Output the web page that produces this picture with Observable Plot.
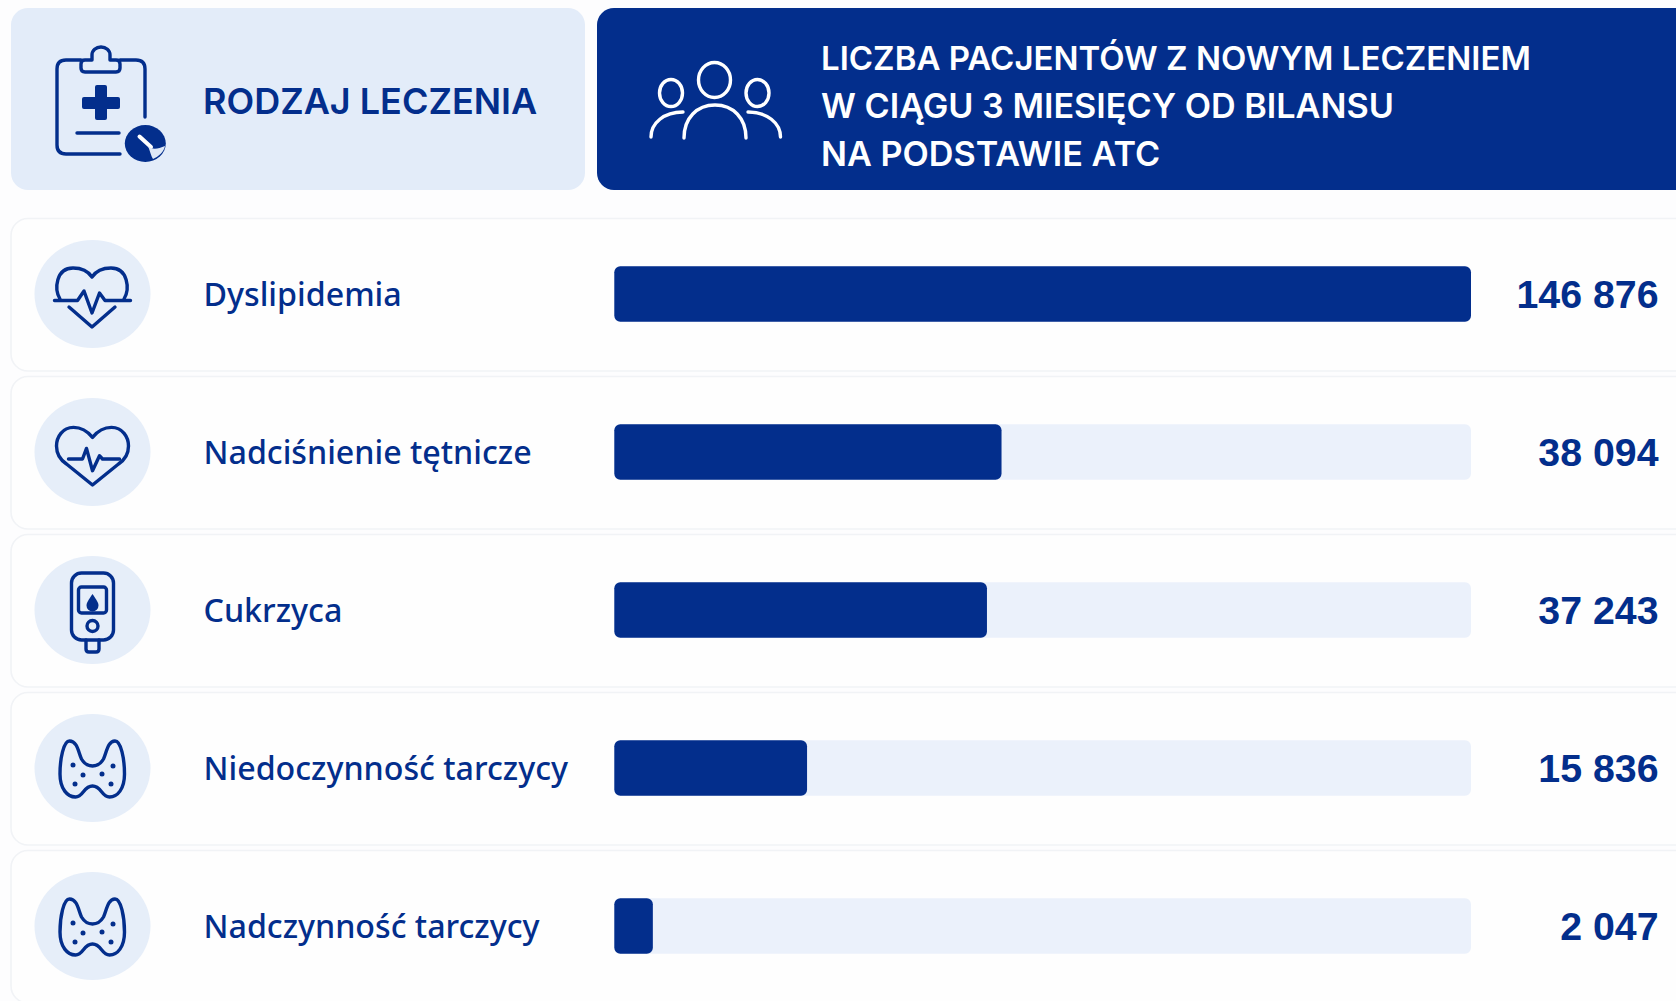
<!DOCTYPE html>
<html lang="pl">
<head>
<meta charset="utf-8">
<title>Rodzaj leczenia</title>
<script src="https://cdn.jsdelivr.net/npm/d3@7"></script>
<script src="https://cdn.jsdelivr.net/npm/@observablehq/plot@0.6"></script>
<style>
  html, body { margin: 0; padding: 0; background: #fdfdfe; overflow: hidden; }
  svg { display: block; }
</style>
</head>
<body>
<script>
// Row names and printed patient counts
const categories = ["Dyslipidemia", "Nadciśnienie tętnicze", "Cukrzyca", "Niedoczynność tarczycy", "Nadczynność tarczycy"];
const patients = [146876, 38094, 37243, 15836, 2047];
// Bar fill as % of its track: the reference's bars are not proportional to the printed counts
const barShare = [100, 45.2, 43.5, 22.5, 4.5];
const track = [100, 100, 100, 100, 100];
const leftHeader = "RODZAJ LECZENIA";
const rightHeader = ["LICZBA PACJENTÓW Z NOWYM LECZENIEM", "W CIĄGU 3 MIESIĘCY OD BILANSU", "NA PODSTAWIE ATC"];
const rightHeaderSize = [33, 34.2, 34.2];

const NAVY = "#032e8c", PALE = "#e3ecf9", CIRCLE = "#e6eef9", TRACK = "#ebf1fb";
const FONT = "'Noto Sans', sans-serif";
const HEADFONT = "Inter, sans-serif";
const NUMFONT = "'Liberation Sans', sans-serif";

const rows = categories.map((name, i) => ({name, patients: patients[i], share: barShare[i], track: track[i]}));
const spaced = n => String(n).replace(/\B(?=(\d{3})+$)/g, " ");

const thyroid = `<path d="M-23 -27C-29 -27 -32.5 -9 -32.5 6C-32.5 21 -25 29 -17 29C-9 29 -9 18 0 18C9 18 9 29 17 29C25 29 32 21 32 6C32 -9 28.5 -27 22.5 -27C15 -27 14 -15 11 -9C8 -4 4 -2 0 -2C-4 -2 -8 -4 -11 -9C-14 -15 -15 -27 -23 -27Z"/>
  <g fill="${NAVY}" stroke="none"><circle cx="-19.5" cy="-3" r="2.5"/><circle cx="-9.5" cy="7" r="2.5"/><circle cx="9.5" cy="6" r="2.5"/><circle cx="20.5" cy="-2" r="2.5"/><circle cx="-17.5" cy="16" r="2.5"/><circle cx="18.5" cy="16" r="2.5"/></g>`;
const icons = [
  `<path d="M-32.5 5C-38.5 -5 -36.5 -26 -19.5 -26C-10.5 -26 -4.5 -23 -.5 -17C3.5 -23 9.5 -26 18.5 -26C35.5 -26 37.5 -5 31.5 5"/>
   <path d="M-38 6.5H-15L-8.5 -3L-.5 19L7 -1L12.5 6.5H38"/><path d="M-23.5 13L-.5 33L22.5 13"/>`,
  `<path d="M0 -14.6C-6 -22 -13 -24.6 -19 -24.6C-30 -24.6 -36 -15 -36 -6C-36 2 -32 8 -26 12L0 33L26 12C32 8 36 2 36 -6C36 -15 30 -24.6 19 -24.6C13 -24.6 6 -22 0 -14.6Z"/>
   <path d="M-24 7H-10L-6 -3.6L0 18.7L7 3.7L10 7H27"/>`,
  `<rect x="-21" y="-37" width="42" height="67" rx="10"/><rect x="-14" y="-23" width="28" height="26" rx="3"/>
   <path d="M0 -16C4 -10 6 -7.5 6 -4.5A6 6 0 0 1 -6 -4.5C-6 -7.5 -4 -10 0 -16Z" fill="${NAVY}" stroke="none"/>
   <circle cx="0" cy="16" r="5.5"/><path d="M-6.5 30V39Q-6.5 42 -3.5 42H3.5Q6.5 42 6.5 39V30"/>`,
  thyroid,
  thyroid
];

function decoration(index, scales) {
  const g = d3.create("svg:g");
  const bw = typeof scales.y.bandwidth === "function" ? scales.y.bandwidth() : scales.y.bandwidth;
  let html = `
  <rect x="11" y="8" width="574" height="182" rx="17" fill="${PALE}"/>
  <rect x="597" y="8" width="1100" height="182" rx="17" fill="${NAVY}"/>
  <g fill="none" stroke="${NAVY}" stroke-width="3.4" stroke-linecap="round" stroke-linejoin="round">
    <path d="M81 60H66Q57 60 57 69V145Q57 154 66 154H120"/><path d="M120 60H136Q145 60 145 69V117"/>
    <path d="M81 64Q81 60 85 60H92V55A9 8 0 0 1 110 55V60H116Q120 60 120 64V68Q120 72 116 72H85Q81 72 81 68Z"/>
    <path d="M77 133H119"/>
  </g>
  <rect x="82" y="97" width="38" height="12" rx="2" fill="${NAVY}"/><rect x="95" y="85" width="12" height="35" rx="2" fill="${NAVY}"/>
  <ellipse cx="145.3" cy="143.5" rx="20.5" ry="18.5" fill="${NAVY}"/>
  <path d="M139.5 136.5L151 147" stroke="#fff" stroke-width="4" stroke-linecap="round"/>
  <path d="M148 146C152 150 158 149 165 146C164 152 158 157 153 159C151 156 150 151 148 146Z" fill="#dfe8f6"/>
  <g fill="none" stroke="#fff" stroke-width="3.4" stroke-linecap="round">
    <ellipse cx="714.5" cy="80" rx="16" ry="17.5"/><ellipse cx="671" cy="93" rx="11.5" ry="13.5"/><ellipse cx="757.5" cy="93" rx="11.5" ry="13.5"/>
    <path d="M684 138C684 118 697 105 715 105C733 105 746 118 746 138"/>
    <path d="M651 137C651 123 664 112 683 112"/><path d="M780.5 137C780.5 123 767 112 748 112"/>
  </g>
  <g text-anchor="start" font-family="${HEADFONT}" font-weight="600">
  <text x="203" y="101.5" dy=".36em" fill="${NAVY}" font-size="36">${leftHeader}</text>
  ${rightHeader.map((t, i) => `<text x="821" y="${58 + i * 47.8}" dy=".36em" fill="#fff" font-size="${rightHeaderSize[i]}">${t}</text>`).join("")}
  </g>`;
  rows.forEach((d, i) => {
    const c = scales.y(d.name) + bw / 2;
    html += `<rect x="11" y="${c - 75.5}" width="1700" height="152.5" rx="17" fill="#fefefe" stroke="#f1f3f6" stroke-width="1.6"/>
    <ellipse cx="92.5" cy="${c}" rx="58" ry="54" fill="${CIRCLE}"/>
    <g transform="translate(92.5 ${c})" fill="none" stroke="${NAVY}" stroke-width="3.4" stroke-linecap="round" stroke-linejoin="round">${icons[i]}</g>`;
  });
  g.html(html);
  return g.node();
}

const chart = Plot.plot({
  width: 1676,
  height: 1001,
  margin: 0,
  style: {background: "transparent"},
  x: {domain: [0, 100], range: [614.3, 1471], axis: null},
  y: {type: "band", domain: categories, range: [213, 1006.3], padding: 0, axis: null},
  marks: [
    decoration,
    Plot.barX(rows, {x: "track", y: "name", fill: TRACK, rx: 6, insetTop: 51.3, insetBottom: 51.3}),
    Plot.barX(rows, {x: "share", y: "name", fill: NAVY, rx: 6, insetTop: 51.3, insetBottom: 51.3}),
    Plot.text(rows, {x: () => 0, y: "name", text: "name", textAnchor: "start", dx: -411.3, dy: 1.5, fill: NAVY,
      fontFamily: FONT, fontSize: 32.2, fontWeight: 500}),
    Plot.text(rows, {x: "track", y: "name", text: d => spaced(d.patients), textAnchor: "end", dx: 187, dy: 1, fill: NAVY,
      fontFamily: NUMFONT, fontSize: 39.3, fontWeight: 700})
  ]
});
document.body.appendChild(chart);
</script>
</body>
</html>
